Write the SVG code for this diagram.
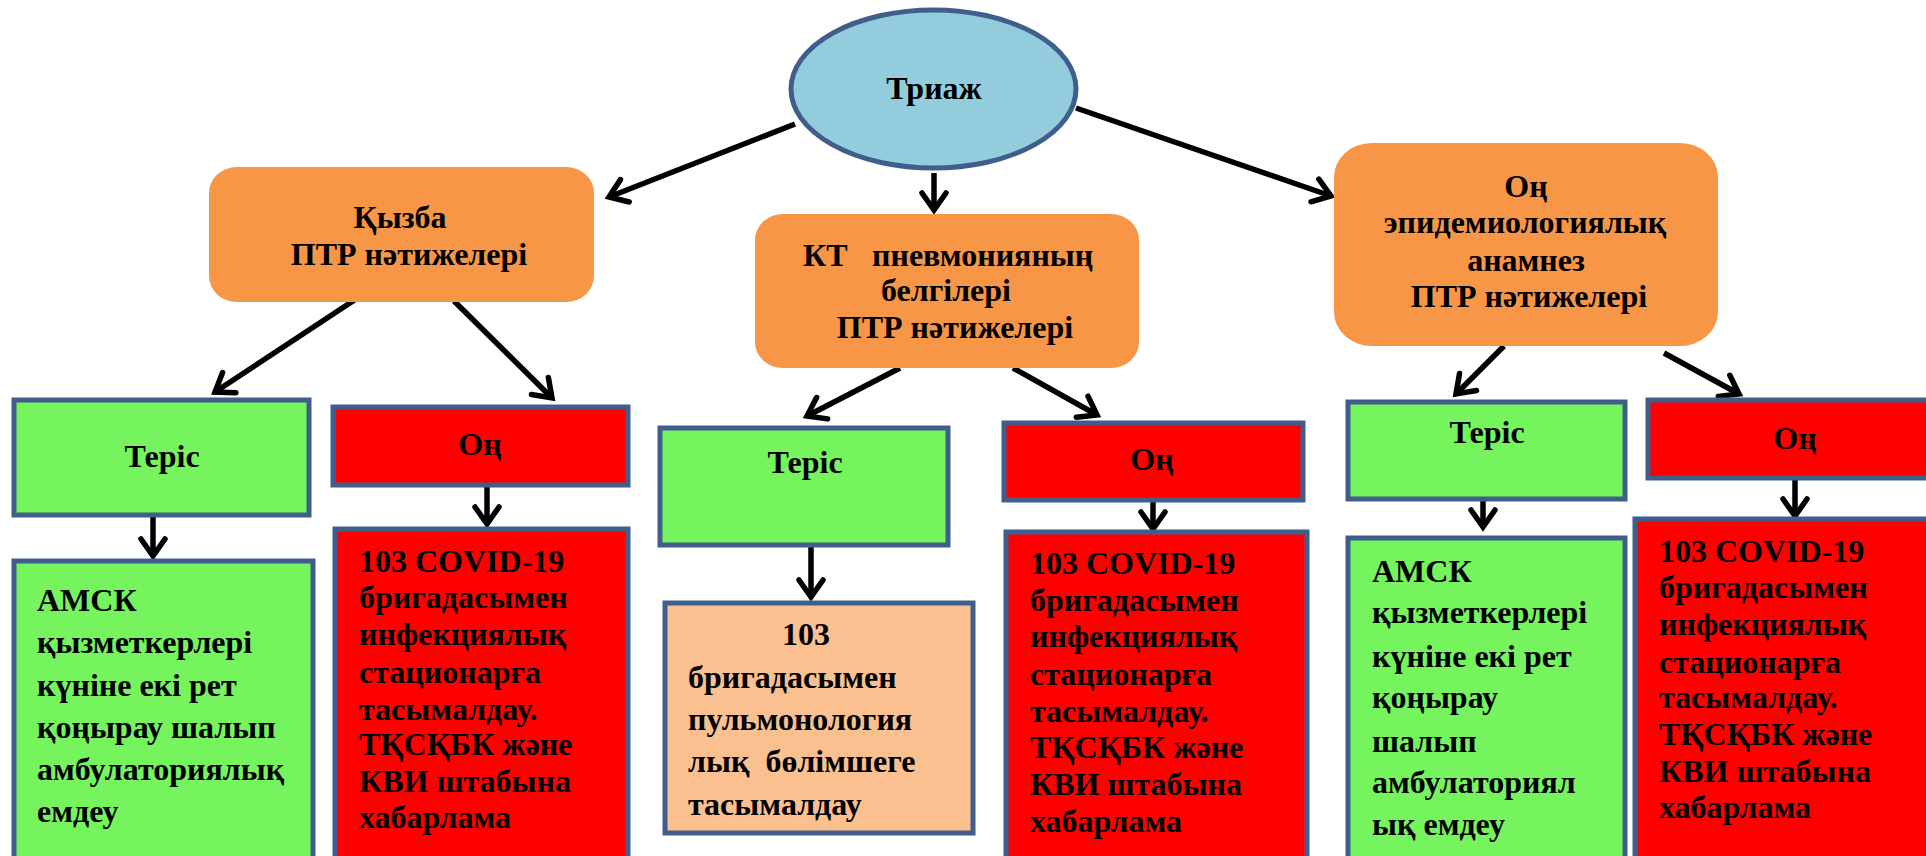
<svg xmlns="http://www.w3.org/2000/svg" width="1926" height="856" viewBox="0 0 1926 856">
<defs>
<style>
.t{font-family:"Liberation Serif","Times New Roman",serif;font-weight:bold;font-size:32px;fill:#000;white-space:pre}
.m{text-anchor:middle}
.box{stroke:#3F5E8C;stroke-width:5}
.org{fill:#F79646}
.grn{fill:#75F45E}
.red{fill:#FF0000}
.lor{fill:#FAC090}
.con{stroke:#000;stroke-width:5.5;fill:none;marker-end:url(#ah)}
</style>
<marker id="ah" markerUnits="userSpaceOnUse" markerWidth="28" markerHeight="28" viewBox="0 0 28 28" refX="22" refY="14" orient="auto" overflow="visible">
<path d="M5,2 L22,14 L5,26" fill="none" stroke="#000" stroke-width="5.5" stroke-linecap="round" stroke-linejoin="miter"/>
</marker>
</defs>
<rect width="1926" height="856" fill="#fff"/>
<g id="connectors">
<path class="con" d="M795,124 L609,197"/>
<path class="con" d="M934,173 L934,210"/>
<path class="con" d="M1076,108 L1331,196"/>
<path class="con" d="M356,299 L215,392"/>
<path class="con" d="M454,301 L552,398"/>
<path class="con" d="M900,368 L807,416"/>
<path class="con" d="M1013,368 L1097,415"/>
<path class="con" d="M1504,346 L1456,394"/>
<path class="con" d="M1664,353 L1739,394"/>
<path class="con" d="M153,515 L153,556"/>
<path class="con" d="M487,485 L487,524"/>
<path class="con" d="M811,545 L811,597"/>
<path class="con" d="M1153,500 L1153,529"/>
<path class="con" d="M1483,499 L1483,527"/>
<path class="con" d="M1795,478 L1795,516"/>
</g>
<g id="triage">
<ellipse cx="933.5" cy="89" rx="142.5" ry="79" fill="#93CDDD" stroke="#3F5E8C" stroke-width="5"/>
<text class="t m" x="934" y="99">Триаж</text>
</g>
<g id="fever">
<rect class="org" x="209" y="167" width="385" height="135" rx="28" ry="26"/>
<text class="t m" x="400" y="228">Қызба</text>
<text class="t m" x="409" y="265">ПТР нәтижелері</text>
</g>
<g id="ct">
<rect class="org" x="755" y="214" width="384" height="154" rx="28" ry="26"/>
<text class="t" y="266"><tspan x="803">КТ</tspan><tspan x="872">пневмонияның</tspan></text>
<text class="t m" x="946" y="301">белгілері</text>
<text class="t m" x="955" y="338">ПТР нәтижелері</text>
</g>
<g id="epi">
<rect class="org" x="1334" y="143" width="384" height="203" rx="38" ry="34"/>
<text class="t m" x="1526" y="197">Оң</text>
<text class="t m" x="1525" y="233">эпидемиологиялық</text>
<text class="t m" x="1526" y="271">анамнез</text>
<text class="t m" x="1529" y="307">ПТР нәтижелері</text>
</g>
<g id="neg1">
<rect class="box grn" x="14" y="400" width="295" height="115"/>
<text class="t m" x="162" y="467">Теріс</text>
</g>
<g id="pos1">
<rect class="box red" x="333" y="407" width="295" height="78"/>
<text class="t m" x="480" y="455">Оң</text>
</g>
<g id="amsk1">
<rect class="box grn" x="14" y="561" width="299" height="302"/>
<text class="t" x="37" y="611">АМСК</text>
<text class="t" x="37" y="653">қызметкерлері</text>
<text class="t" x="37" y="696">күніне екі рет</text>
<text class="t" x="37" y="738">қоңырау шалып</text>
<text class="t" x="37" y="780">амбулаториялық</text>
<text class="t" x="37" y="822">емдеу</text>
</g>
<g id="covid1">
<rect class="box red" x="335" y="529" width="293" height="334"/>
<text class="t" x="359" y="572">103 COVID-19</text>
<text class="t" x="359" y="608">бригадасымен</text>
<text class="t" x="359" y="645">инфекциялық</text>
<text class="t" x="359" y="683">стационарға</text>
<text class="t" x="359" y="720">тасымалдау.</text>
<text class="t" x="359" y="755">ТҚСҚБК және</text>
<text class="t" x="359" y="792">КВИ штабына</text>
<text class="t" x="359" y="828">хабарлама</text>
</g>
<g id="neg2">
<rect class="box grn" x="660" y="428" width="288" height="117"/>
<text class="t m" x="805" y="473">Теріс</text>
</g>
<g id="pulm">
<rect class="box lor" x="665" y="603" width="308" height="230"/>
<text class="t m" x="806" y="645">103</text>
<text class="t" x="688" y="688">бригадасымен</text>
<text class="t" x="688" y="730">пульмонология</text>
<text class="t" x="688" y="772" xml:space="preserve">лық  бөлімшеге</text>
<text class="t" x="688" y="815">тасымалдау</text>
</g>
<g id="pos2">
<rect class="box red" x="1004" y="423" width="299" height="77"/>
<text class="t m" x="1152" y="470">Оң</text>
</g>
<g id="covid2">
<rect class="box red" x="1006" y="532" width="301" height="331"/>
<text class="t" x="1030" y="574">103 COVID-19</text>
<text class="t" x="1030" y="611">бригадасымен</text>
<text class="t" x="1030" y="647">инфекциялық</text>
<text class="t" x="1030" y="685">стационарға</text>
<text class="t" x="1030" y="722">тасымалдау.</text>
<text class="t" x="1030" y="758">ТҚСҚБК және</text>
<text class="t" x="1030" y="795">КВИ штабына</text>
<text class="t" x="1030" y="832">хабарлама</text>
</g>
<g id="neg3">
<rect class="box grn" x="1348" y="402" width="277" height="97"/>
<text class="t m" x="1487" y="443">Теріс</text>
</g>
<g id="amsk3">
<rect class="box grn" x="1348" y="538" width="277" height="325"/>
<text class="t" x="1372" y="582">АМСК</text>
<text class="t" x="1372" y="623">қызметкерлері</text>
<text class="t" x="1372" y="667">күніне екі рет</text>
<text class="t" x="1372" y="708">қоңырау</text>
<text class="t" x="1372" y="752">шалып</text>
<text class="t" x="1372" y="793">амбулаториял</text>
<text class="t" x="1372" y="835">ық емдеу</text>
</g>
<g id="pos3">
<rect class="box red" x="1648" y="400" width="300" height="78"/>
<text class="t m" x="1795" y="449">Оң</text>
</g>
<g id="covid3">
<rect class="box red" x="1635" y="519" width="300" height="344"/>
<text class="t" x="1659" y="562">103 COVID-19</text>
<text class="t" x="1659" y="598">бригадасымен</text>
<text class="t" x="1659" y="635">инфекциялық</text>
<text class="t" x="1659" y="673">стационарға</text>
<text class="t" x="1659" y="708">тасымалдау.</text>
<text class="t" x="1659" y="745">ТҚСҚБК және</text>
<text class="t" x="1659" y="782">КВИ штабына</text>
<text class="t" x="1659" y="818">хабарлама</text>
</g>
</svg>
